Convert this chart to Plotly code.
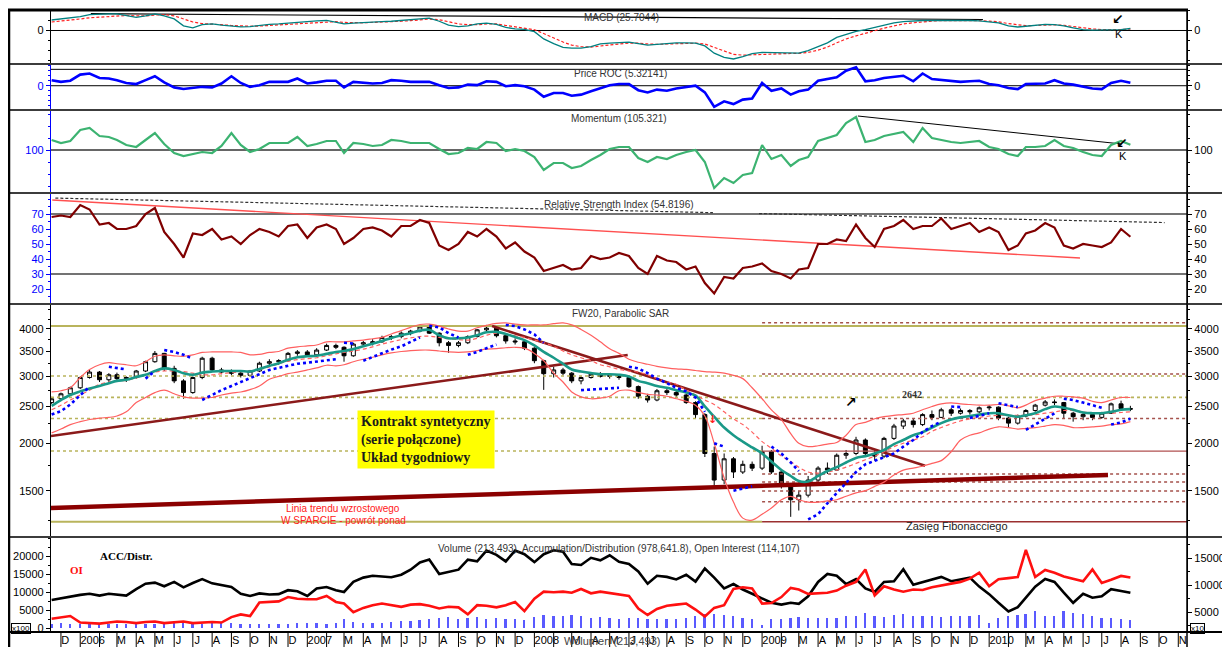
import pandas as pd
import plotly.graph_objects as go

SANS = "Liberation Sans, Arial, sans-serif"
SERIF = "Liberation Serif, Times New Roman, serif"
GLYPH = "DejaVu Sans, sans-serif"

# ---------------- time grid (1st and 16th of every month) ----------------
dates = []
for p in pd.period_range("2005-11", "2010-08", freq="M"):
    for d in (1, 16):
        ts = pd.Timestamp(p.year, p.month, d)
        if ts >= pd.Timestamp("2005-11-16"):
            dates.append(ts.strftime("%Y-%m-%d"))

# ---------------- price (FW20, half-monthly candles) ----------------
price_open = [2560, 2620, 2700, 2800, 2980, 3080, 2940, 3030, 2960, 2980,
              3100, 3280, 3450, 3150, 2920, 2720, 2980, 3350, 3120, 3080,
              3060, 3020, 3100, 3250, 3280, 3300, 3450, 3480, 3420, 3520,
              3620, 3580, 3400, 3650, 3680, 3700, 3800, 3820, 3900, 3950,
              4050, 3900, 3680, 3620, 3680, 3820, 3980, 4020, 3840, 3720,
              3700, 3560, 3300, 3050, 3120, 3060, 2920, 2980, 3040, 3000,
              3020, 2980, 2820, 2660, 2600, 2750, 2720, 2680, 2560, 2380,
              1880, 1600, 1820, 1680, 1760, 1720, 1900, 1680, 1540, 1420,
              1460, 1600, 1720, 1700, 1860, 1880, 2040, 1880, 1850, 2060,
              2220, 2290, 2240, 2380, 2340, 2450, 2400, 2440, 2420, 2480,
              2490, 2330, 2260, 2360, 2440, 2520, 2570, 2560, 2400, 2350,
              2380, 2340, 2400, 2540, 2470]
price_high = [2650, 2720, 2820, 3000, 3120, 3100, 3060, 3070, 3000, 3120,
              3300, 3500, 3460, 3200, 2950, 3000, 3380, 3380, 3160, 3130,
              3090, 3120, 3280, 3330, 3330, 3480, 3520, 3520, 3560, 3660,
              3660, 3600, 3680, 3720, 3760, 3840, 3860, 3940, 3980, 4100,
              4080, 3920, 3720, 3720, 3850, 4000, 4100, 4040, 3860, 3780,
              3720, 3580, 3320, 3180, 3160, 3080, 3000, 3080, 3080, 3060,
              3040, 3000, 2840, 2700, 2780, 2800, 2760, 2700, 2580, 2400,
              1960, 1880, 1840, 1800, 1790, 1970, 1920, 1700, 1560, 1500,
              1640, 1740, 1780, 1880, 1920, 2080, 2060, 1920, 2080, 2250,
              2320, 2330, 2400, 2440, 2480, 2480, 2470, 2460, 2500, 2520,
              2500, 2350, 2380, 2460, 2540, 2600, 2610, 2570, 2420, 2420,
              2400, 2420, 2560, 2590, 2510]
price_low = [2540, 2600, 2680, 2780, 2960, 2900, 2900, 2920, 2900, 2960,
             3080, 3260, 3100, 2880, 2620, 2700, 2950, 3080, 3040, 3020,
             2980, 3000, 3080, 3200, 3220, 3280, 3400, 3380, 3400, 3500,
             3540, 3280, 3380, 3600, 3620, 3680, 3740, 3780, 3850, 3920,
             3880, 3600, 3460, 3580, 3650, 3800, 3950, 3800, 3660, 3640,
             3520, 3250, 2765, 2980, 3020, 2880, 2860, 2960, 2980, 2960,
             2940, 2800, 2620, 2560, 2580, 2680, 2650, 2540, 2330, 1840,
             1540, 1560, 1620, 1660, 1690, 1700, 1660, 1520, 1280, 1330,
             1440, 1580, 1660, 1690, 1820, 1860, 1840, 1800, 1830, 2040,
             2180, 2200, 2220, 2300, 2330, 2360, 2380, 2380, 2400, 2440,
             2300, 2200, 2240, 2340, 2420, 2500, 2520, 2320, 2280, 2300,
             2300, 2320, 2390, 2440, 2430]
price_close = [2620, 2700, 2800, 2980, 3080, 2940, 3030, 2960, 2980, 3100,
               3280, 3450, 3150, 2920, 2720, 2980, 3350, 3120, 3080, 3060,
               3020, 3100, 3250, 3280, 3300, 3450, 3480, 3420, 3520, 3620,
               3580, 3400, 3650, 3680, 3700, 3800, 3820, 3900, 3950, 4050,
               3900, 3680, 3620, 3680, 3820, 3980, 4020, 3840, 3720, 3700,
               3560, 3300, 3050, 3120, 3060, 2920, 2980, 3040, 3000, 3020,
               2980, 2820, 2660, 2600, 2750, 2720, 2680, 2560, 2380, 1880,
               1600, 1820, 1680, 1760, 1720, 1900, 1680, 1540, 1420, 1460,
               1600, 1720, 1700, 1860, 1880, 2040, 1880, 1850, 2060, 2220,
               2290, 2240, 2380, 2340, 2450, 2400, 2440, 2420, 2480, 2490,
               2330, 2260, 2360, 2440, 2520, 2570, 2560, 2400, 2350, 2380,
               2340, 2400, 2540, 2470, 2460]

ma_fast = [2510, 2600, 2680, 2740, 2790, 2830, 2880, 2920, 2940, 2990,
           3030, 3100, 3150, 3120, 3060, 3030, 3070, 3090, 3100, 3100,
           3100, 3090, 3140, 3200, 3250, 3320, 3370, 3390, 3400, 3440,
           3480, 3500, 3540, 3600, 3660, 3720, 3790, 3850, 3900, 3960,
           3980, 3850, 3780, 3780, 3800, 3850, 3920, 3930, 3880, 3810,
           3740, 3620, 3480, 3360, 3240, 3130, 3090, 3060, 3040, 3040,
           3030, 3000, 2920, 2880, 2830, 2800, 2760, 2720, 2670, 2500,
           2350, 2200, 2100, 2020, 1950, 1880, 1790, 1700, 1640, 1590,
           1585, 1640, 1690, 1730, 1780, 1830, 1850, 1880, 1920, 1990,
           2040, 2100, 2140, 2200, 2260, 2310, 2340, 2360, 2380, 2400,
           2400, 2370, 2350, 2370, 2400, 2460, 2500, 2480, 2450, 2410,
           2400, 2400, 2420, 2450, 2460]
ma_slow = [2450, 2520, 2600, 2680, 2760, 2860, 2900, 2920, 2930, 2970,
           3030, 3080, 3100, 3100, 3090, 3060, 3030, 3030, 3050, 3070,
           3090, 3100, 3130, 3180, 3240, 3290, 3320, 3340, 3360, 3400,
           3440, 3470, 3500, 3540, 3590, 3650, 3700, 3750, 3790, 3820,
           3830, 3800, 3770, 3750, 3740, 3780, 3850, 3900, 3880, 3840,
           3800, 3740, 3680, 3600, 3500, 3420, 3360, 3300, 3220, 3180,
           3130, 3100, 3080, 3030, 2960, 2900, 2860, 2760, 2680, 2600,
           2530, 2420, 2320, 2240, 2140, 2020, 1940, 1850, 1790, 1730,
           1680, 1670, 1680, 1700, 1730, 1770, 1810, 1850, 1900, 1960,
           2000, 2040, 2080, 2150, 2200, 2250, 2290, 2320, 2340, 2360,
           2370, 2370, 2370, 2370, 2380, 2400, 2420, 2440, 2440, 2420,
           2400, 2400, 2400, 2410, 2420]
bb_upper = [2730, 2750, 2800, 2980, 3130, 3220, 3260, 3240, 3220, 3200,
            3280, 3390, 3420, 3400, 3390, 3420, 3470, 3480, 3480, 3480,
            3470, 3420, 3430, 3470, 3490, 3560, 3590, 3610, 3630, 3700,
            3700, 3700, 3720, 3740, 3770, 3800, 3880, 3960, 4040, 4110,
            4120, 4070, 4000, 3950, 3950, 4030, 4090, 4140, 4150, 4120,
            4100, 4100, 4100, 4130, 4150, 4100, 3990, 3850, 3700, 3550,
            3450, 3330, 3270, 3230, 3190, 3160, 3140, 3130, 3110, 3090,
            3080, 3060, 3020, 2960, 2800, 2620, 2450, 2310, 2120, 2000,
            1960, 1970, 1990, 2010, 2100, 2240, 2270, 2320, 2350, 2370,
            2380, 2400, 2450, 2500, 2540, 2555, 2540, 2530, 2520, 2520,
            2530, 2510, 2480, 2520, 2590, 2630, 2660, 2660, 2650, 2630,
            2580, 2560, 2600, 2640, 2640]
bb_lower = [2130, 2180, 2240, 2280, 2310, 2330, 2340, 2360, 2420, 2560,
            2640, 2720, 2760, 2700, 2650, 2630, 2630, 2640, 2680, 2710,
            2730, 2770, 2830, 2950, 3000, 3050, 3080, 3120, 3160, 3210,
            3200, 3220, 3280, 3330, 3370, 3420, 3460, 3490, 3510, 3520,
            3520, 3500, 3480, 3470, 3480, 3510, 3540, 3550, 3570, 3580,
            3560, 3450, 3300, 3060, 2900, 2730, 2650, 2620, 2630, 2660,
            2750, 2760, 2720, 2690, 2680, 2660, 2620, 2580, 2520, 2360,
            2000, 1620, 1400, 1270, 1255, 1300, 1350, 1420, 1450, 1420,
            1400, 1400, 1410, 1420, 1450, 1480, 1500, 1540, 1580, 1650,
            1700, 1720, 1740, 1770, 1800, 1900, 2040, 2100, 2130, 2180,
            2210, 2200, 2180, 2190, 2200, 2220, 2240, 2230, 2200, 2200,
            2210, 2220, 2240, 2250, 2280]

# Parabolic SAR (None = flip / gap)
sar_dates = ["2005-11-16", "2005-12-01", "2005-12-16", "2006-01-01", "2006-01-16", None,
             "2006-02-16", "2006-03-01", "2006-03-16", None,
             "2006-04-16", "2006-05-01", None,
             "2006-05-16", "2006-06-01", "2006-06-16", "2006-07-01", None,
             "2006-07-16", "2006-08-01", "2006-08-16", "2006-09-01", "2006-09-16", "2006-10-01",
             "2006-10-16", "2006-11-01", "2006-11-16", "2006-12-01", "2006-12-16", "2007-01-01",
             "2007-01-16", "2007-02-01", "2007-02-16", None,
             "2007-03-01", "2007-03-16", None,
             "2007-04-01", "2007-04-16", "2007-05-01", "2007-05-16", "2007-06-01", "2007-06-16",
             "2007-07-01", None,
             "2007-07-16", "2007-08-01", "2007-08-16", "2007-09-01", None,
             "2007-09-16", "2007-10-01", "2007-10-16", "2007-11-01", None,
             "2007-11-16", "2007-12-01", "2007-12-16", "2008-01-01", "2008-01-16", None,
             "2008-03-16", "2008-04-01", "2008-04-16", "2008-05-01", "2008-05-16", None,
             "2008-06-01", "2008-06-16", "2008-07-01", "2008-07-16", "2008-08-01", "2008-08-16",
             "2008-09-01", "2008-09-16", "2008-10-01", None,
             "2008-10-16", "2008-11-01", None,
             "2008-11-16", "2008-12-01", "2008-12-16", None,
             "2009-01-16", "2009-02-01", "2009-02-16", "2009-03-01", None,
             "2009-03-16", "2009-04-01", "2009-04-16", "2009-05-01", "2009-05-16", "2009-06-01",
             "2009-06-16", "2009-07-01", "2009-07-16", "2009-08-01", "2009-08-16", "2009-09-01",
             "2009-09-16", "2009-10-01", "2009-10-16", None,
             "2009-11-01", "2009-11-16", None,
             "2009-12-01", "2009-12-16", "2010-01-01", None,
             "2010-01-16", "2010-02-01", "2010-02-16", None,
             "2010-03-01", "2010-03-16", "2010-04-01", "2010-04-16", None,
             "2010-05-01", "2010-05-16", "2010-06-01", "2010-06-16", "2010-07-01", None,
             "2010-07-16", "2010-08-01", "2010-08-16"]
sar_values = [2380, 2430, 2530, 2680, 2820, None,
              3180, 3160, 3130, None,
              2960, 3100, None,
              3520, 3480, 3420, 3340, None,
              2600, 2680, 2760, 2830, 2900, 2980,
              3050, 3120, 3160, 3200, 3240, 3260,
              3280, 3310, 3330, None,
              3680, 3660, None,
              3300, 3380, 3450, 3530, 3600, 3700,
              3800, None,
              4080, 4040, 3900, 3800, None,
              3420, 3480, 3560, 3640, None,
              4100, 4070, 3990, 3870, 3680, None,
              2760, 2770, 2770, 2780, 2800, None,
              3180, 3150, 3060, 2960, 2880, 2800,
              2740, 2640, 2420, None,
              2000, 1960, None,
              1500, 1520, 1540, None,
              1960, 1880, 1780, 1690, None,
              1260, 1300, 1390, 1480, 1580, 1680,
              1760, 1800, 1840, 1880, 1960, 2040,
              2140, 2220, 2280, None,
              2500, 2490, None,
              2330, 2360, 2400, None,
              2550, 2520, 2490, None,
              2170, 2240, 2320, 2400, None,
              2620, 2600, 2560, 2520, 2480, None,
              2240, 2270, 2320]

# horizontal price levels
fib_levels_full = [3008, 2642]           # olive dotted, whole width
fib_levels_early = [2325, 1908]          # olive dotted, until 2009
fib_levels_late = [4154, 3045, 2325, 1660, 1581, 1497, 1403]   # dark red dotted, from 2009
top_level = 4074
bottom_level = 1243
level_1908 = 1908

# trend lines (dates, prices)
trend_up_dates = ["2005-11-15", "2008-05-30"]
trend_up_prices = [2090, 3416]
trend_down_dates = ["2007-10-25", "2009-09-20"]
trend_down_prices = [4074, 1746]
support_dates = ["2005-11-15", "2010-07-11"]
support_prices = [1351, 1650]

# ---------------- indicators ----------------
macd_line = [136, 150, 165, 180, 205, 215, 215, 215, 190, 170,
             190, 215, 190, 150, 60, 35, 75, 85, 70, 55,
             48, 50, 65, 80, 85, 95, 110, 115, 125, 130,
             110, 85, 95, 105, 110, 115, 120, 130, 140, 155,
             160, 120, 70, 50, 60, 85, 95, 80, 40, 20,
             15, -15, -110, -170, -220, -230, -230, -210, -175, -165,
             -160, -150, -170, -190, -180, -165, -160, -160, -165, -200,
             -295, -350, -370, -340, -300, -285, -290, -295, -300, -295,
             -260, -210, -160, -90, -50, -10, 10, 40, 70, 100,
             115, 125, 130, 130, 132, 132, 130, 130, 125, 115,
             100, 60, 45, 55, 70, 80, 75, 60, 35, 10,
             5, 5, 8, 10, 25.7]
macd_signal = [110, 120, 135, 150, 165, 175, 185, 195, 195, 190,
               190, 200, 205, 190, 150, 110, 90, 85, 75, 65,
               58, 55, 58, 65, 75, 82, 92, 100, 108, 115,
               115, 105, 100, 100, 105, 108, 112, 120, 128, 138,
               148, 140, 110, 85, 75, 75, 85, 85, 65, 45,
               30, 10, -40, -100, -150, -190, -210, -215, -200, -185,
               -175, -165, -165, -175, -180, -175, -170, -165, -165, -175,
               -220, -270, -310, -320, -315, -305, -300, -298, -298, -296,
               -285, -255, -215, -160, -110, -70, -35, 0, 30, 60,
               85, 100, 115, 122, 128, 130, 130, 130, 128, 122,
               112, 90, 70, 62, 65, 72, 74, 68, 52, 32,
               20, 12, 10, 12, 18]
macd_res_dates = ["2006-01-18", "2009-12-22"]
macd_res_values = [218, 143]

roc = [10, 7, 9, 20, 22, 14, 13, 10, 5, 3,
       10, 17, 6, -3, -6, -4, -2, -3, 4, 17,
       5, -2, 1, 7, 7, 7, 13, 4, 6, 9,
       9, -3, 7, 6, 4, 5, 10, 9, 7, 7,
       7, 1, -4, -3, 2, 1, 8, 7, -1, 1,
       -1, -7, -20, -13, -13, -18, -16, -10, -5, 1,
       3, 3, -8, -12, -7, -9, -5, -2, 0, -12,
       -38, -28, -33, -25, -23, 5, -9, -5, -16, -10,
       -7, 9, 12, 15, 27, 33, 8, 10, 14, 16,
       18, 8, 22, 12, 10, 8, 7, 8, 9, 3,
       1, -4, -6, 3, 3, 4, 10, 4, 2, -2,
       -5, -6, 5, 9, 5.32]
momentum = [110, 107, 109, 120, 122, 114, 113, 110, 105, 103,
            110, 117, 106, 97, 94, 96, 98, 97, 104, 117,
            105, 98, 101, 107, 107, 107, 113, 104, 106, 109,
            109, 97, 107, 106, 104, 105, 110, 109, 107, 107,
            107, 101, 96, 97, 102, 101, 108, 107, 99, 101,
            99, 93, 80, 87, 87, 82, 84, 90, 95, 101,
            103, 103, 92, 88, 93, 91, 95, 98, 100, 88,
            62, 72, 67, 75, 77, 105, 91, 95, 84, 90,
            93, 109, 112, 115, 127, 133, 108, 110, 114, 116,
            118, 108, 122, 112, 110, 108, 107, 108, 109, 103,
            101, 96, 94, 103, 103, 104, 110, 104, 102, 98,
            95, 94, 105, 109, 105.32]
mom_trend_dates = ["2009-06-04", "2010-08-02"]
mom_trend_values = [134, 106]

rsi = [68, 69, 68, 76, 73, 63, 64, 60, 60, 62,
       70, 74, 58, 50, 41, 57, 56, 60, 53, 55,
       50, 56, 60, 58, 55, 62, 63, 54, 61, 63,
       60, 50, 54, 60, 61, 59, 55, 62, 62, 66,
       64, 49, 46, 50, 58, 55, 60, 55, 47, 51,
       45, 41, 32, 34, 36, 33, 34, 42, 40, 41,
       44, 42, 34, 30, 42, 39, 38, 33, 35, 24,
       17, 28, 27, 34, 35, 37, 32, 30, 27, 33,
       34, 50, 50, 53, 52, 63, 54, 48, 60, 62,
       66, 60, 62, 62, 67, 60, 62, 64, 58, 61,
       58, 46, 49, 57, 59, 64, 61, 49, 47, 50,
       49, 48, 51, 60, 54.82]
rsi_trend_dates = ["2005-11-17", "2010-05-27"]
rsi_trend_values = [79.3, 40.7]
rsi_res_dates = ["2005-11-22", "2008-10-14", None, "2008-12-27", "2010-10-10"]
rsi_res_values = [80.6, 70.9, None, 70.3, 64.3]

# ---------------- volume / accumulation-distribution / open interest ----------------
volume = [1200, 1300, 1100, 1000, 1200, 1300, 1100, 1200, 1000, 1300,
          1100, 1200, 1400, 2000, 1800, 1300, 1200, 1400, 1500, 1300,
          1200, 1000, 1100, 1000, 1200, 1100, 1300, 1400, 1500, 1200,
          1300, 2400, 1800, 1400, 1300, 1500, 1700, 1900, 2000, 2200,
          2500, 2900, 3000, 2600, 2700, 3000, 2400, 2800, 2600, 2400,
          2300, 3000, 3600, 3300, 3400, 3500, 3200, 2800, 3000, 2700,
          2600, 2900, 2800, 2600, 2500, 2600, 2400, 2800, 3300, 4000,
          3900, 3500, 3200, 2800, 2500, 800, 2400, 2600, 2800, 3000,
          2700, 2900, 2800, 2700, 3200, 3400, 4300, 3200, 3000, 3600,
          3800, 3400, 3300, 3200, 3100, 3300, 3400, 3200, 3500, 1500,
          2800, 3300, 3600, 3800, 4800, 3200, 3400, 4700, 4300, 3800,
          3400, 2800, 2700, 2600, 2135]
acc_dist = [7800, 8300, 8700, 9200, 9500, 9000, 9500, 9200, 9000, 10800,
            12300, 12600, 11600, 12800, 11300, 12500, 13600, 12400, 12000, 11400,
            9500, 8900, 9600, 9300, 9400, 10500, 10200, 8900, 11000, 11400,
            10500, 10000, 12800, 14000, 14500, 14400, 14100, 14800, 16200, 18200,
            19000, 15000, 15500, 16200, 19000, 18500, 21500, 20300, 18500, 21500,
            20500, 18300, 20500, 21600, 21200, 17800, 17500, 19500, 18800, 20200,
            18400, 17800, 15700, 12300, 14500, 14200, 13500, 14800, 12900, 16500,
            14000, 11000, 12200, 10700, 9500, 8200, 7000, 6500, 7000, 6700,
            8800, 12800, 15000, 14500, 12200, 13600, 11000, 10000, 12800, 13000,
            16300, 12000, 12800, 13600, 14200, 13000, 13600, 14000, 11500, 9400,
            7000, 4600, 5800, 8500, 11500, 13600, 12800, 9800, 7000, 9500,
            8400, 8800, 10800, 10300, 9786]
open_interest = [3800, 4000, 4300, 3100, 3000, 2900, 3100, 3300, 3200, 3000,
                 3200, 3300, 3000, 3200, 3300, 3000, 3100, 3200, 3100, 4100,
                 4600, 4300, 6800, 6900, 7000, 7800, 7500, 7400, 7400, 8000,
                 6900, 6600, 5000, 5800, 6300, 6600, 6300, 6000, 6400, 6500,
                 6200, 5700, 6000, 5900, 4600, 6300, 6200, 5900, 6300, 6900,
                 5200, 7500, 8800, 8700, 8800, 8600, 9300, 8500, 8800, 8500,
                 8300, 8000, 5700, 4500, 5600, 6200, 6400, 6600, 5500, 4200,
                 5800, 6300, 9300, 9600, 9400, 6600, 6700, 7800, 9500, 9200,
                 8400, 8500, 8600, 9000, 9900, 10600, 12900, 8100, 9800, 9200,
                 8800, 9200, 9100, 9600, 9900, 10300, 10600, 11200, 12300, 9800,
                 11100, 11300, 11500, 16500, 11500, 12800, 12300, 11600, 11200, 10700,
                 12900, 10400, 11000, 11700, 11411]

for arr in (price_open, price_high, price_low, price_close, ma_fast, ma_slow, bb_upper, bb_lower,
            macd_line, macd_signal, roc, momentum, rsi, volume, acc_dist, open_interest):
    assert len(arr) == len(dates), len(arr)
assert len(sar_dates) == len(sar_values)

# axis tick labels
month_letters = ["J", "F", "M", "A", "M", "J", "J", "A", "S", "O", "N", "D"]
month_starts = pd.date_range("2005-12-01", "2010-11-01", freq="MS")
x_tickvals, x_ticktext = [], []
for m in month_starts:
    if m.month == 2:
        continue
    if m.month == 1:
        x_tickvals.append((m + pd.Timedelta(days=20)).strftime("%Y-%m-%d"))
        x_ticktext.append(str(m.year))
    else:
        x_tickvals.append((m + pd.Timedelta(days=7)).strftime("%Y-%m-%d"))
        x_ticktext.append(month_letters[m.month - 1])

rsi_ticks = [20, 30, 40, 50, 60, 70]
price_ticks = [1500, 2000, 2500, 3000, 3500, 4000]
vol_ticks_left = [0, 5000, 10000, 15000, 20000]
vol_ticks_right = [5000, 10000, 15000]

X_START, X_END = "2005-11-15", "2010-11-15"

# ---------------- figure ----------------
fig = go.Figure()


def add_line(x, y, axis, color, width, dash="solid", shape="linear"):
    fig.add_trace(go.Scatter(x=x, y=y, yaxis=axis, mode="lines",
                             line=dict(color=color, width=width, dash=dash, shape=shape),
                             hoverinfo="skip", showlegend=False, connectgaps=False))


# MACD panel
add_line(macd_res_dates, macd_res_values, "y", "black", 1.2)
add_line(dates, macd_signal, "y", "#ff2020", 1.2, dash="3px,2px")
add_line(dates, macd_line, "y", "#008080", 1.3)

# ROC panel
add_line(dates, roc, "y2", "#0000ff", 2.6)

# Momentum
add_line(mom_trend_dates, mom_trend_values, "y3", "black", 1)
add_line(dates, momentum, "y3", "#3cb371", 2.2)

# RSI
add_line(rsi_res_dates, rsi_res_values, "y4", "#333333", 1.2, dash="3px,2px")
add_line(rsi_trend_dates, rsi_trend_values, "y4", "#ff5050", 1.4)
add_line(dates, rsi, "y4", "#800000", 2.2)

# Price panel levels
OLIVE = "#b9b45c"
DRED = "#a5524c"
add_line([X_START, X_END], [top_level, top_level], "y5", OLIVE, 2)
add_line([X_START, "2009-01-01"], [bottom_level, bottom_level], "y5", OLIVE, 2)
add_line(["2009-01-01", X_END], [bottom_level, bottom_level], "y5", "#9b3030", 1.5)
for lv in fib_levels_full:
    add_line([X_START, X_END], [lv, lv], "y5", OLIVE, 1.6, dash="dot")
for lv in fib_levels_early:
    add_line([X_START, "2009-01-01"], [lv, lv], "y5", OLIVE, 1.6, dash="dot")
add_line(["2009-01-01", X_END], [level_1908, level_1908], "y5", "#b05050", 1.3)
for lv in fib_levels_late:
    add_line(["2009-01-01", X_END], [lv, lv], "y5", DRED, 1.6, dash="dot")

# trend lines
add_line(trend_up_dates, trend_up_prices, "y5", "#8b1a1a", 2.6)
add_line(trend_down_dates, trend_down_prices, "y5", "#8b1a1a", 2.6)
add_line(support_dates, support_prices, "y5", "#8b0000", 4.5)

# bands / averages
add_line(dates, bb_upper, "y5", "#ff6060", 1.2, shape="spline")
add_line(dates, bb_lower, "y5", "#ff6060", 1.2, shape="spline")
add_line(dates, ma_slow, "y5", "#ff6060", 1.2, dash="4px,3px", shape="spline")

fig.add_trace(go.Candlestick(
    x=dates, open=price_open, high=price_high, low=price_low, close=price_close, yaxis="y5",
    increasing=dict(line=dict(color="black", width=1), fillcolor="white"),
    decreasing=dict(line=dict(color="black", width=1), fillcolor="black"),
    whiskerwidth=0, hoverinfo="skip", showlegend=False))

add_line(dates, ma_fast, "y5", "#1a9988", 2.6, shape="spline")
add_line(sar_dates, sar_values, "y5", "#0000ff", 2.6, dash="dot")

# Volume panel
fig.add_trace(go.Bar(x=dates, y=volume, yaxis="y6", marker=dict(color="#5a5aff", line=dict(width=0)),
                     width=86400000 * 3, hoverinfo="skip", showlegend=False))
add_line(dates, acc_dist, "y6", "black", 2.6)
add_line(dates, open_interest, "y12", "#ff1010", 2.6)

# invisible anchors for right-hand axes
for ax, val in (("y7", 0), ("y8", 0), ("y9", 100), ("y10", 50), ("y11", 2500)):
    fig.add_trace(go.Scatter(x=[dates[0]], y=[val], yaxis=ax, mode="markers",
                             marker=dict(opacity=0), hoverinfo="skip", showlegend=False))


# ---------------- layout helpers (page pixel -> paper) ----------------
def px_x(px):
    return (px - 51) / 1136


def px_y(py):
    return (632 - py) / 622


D_MACD = [px_y(64), 1.0]
D_ROC = [px_y(110), px_y(64)]
D_MOM = [px_y(193), px_y(110)]
D_RSI = [px_y(304), px_y(193)]
D_PRICE = [px_y(537), px_y(304)]
D_VOL = [0.0, px_y(537)]

R_MACD = [-435, 266]
R_ROC = [-43.7, 39.1]
R_MOM = [57, 140]
R_RSI = [10, 84]
R_PRICE = [3.0541, 3.6679]
R_VOL = [-1111, 25278]
R_OI = [1352, 18889]

BLUE = "#0000ff"


def yax(domain, rng, tickvals, color, side="left", overlay=None, log=False, minor=None, tfcolor=None):
    d = dict(domain=domain, range=rng, tickmode="array", tickvals=tickvals,
             ticktext=[str(v) for v in tickvals], showgrid=False, zeroline=False,
             showline=True, linecolor=color, linewidth=1.3, ticks="outside", ticklen=4,
             tickcolor=color, tickfont=dict(family=SANS, size=11, color=tfcolor or color),
             anchor="x", side=side, fixedrange=True)
    if log:
        d["type"] = "log"
    if overlay:
        d["overlaying"] = overlay
    if minor:
        d["minor"] = dict(ticks="outside", ticklen=2, tickcolor=color, **minor)
    return d


price_minor = dict(tickmode="array", tickvals=[1250, 1750, 2250, 2750, 3250, 3750, 4250, 4500])

layout_axes = dict(
    yaxis=yax(D_MACD, R_MACD, [0], "black", minor=dict(tick0=0, dtick=130)),
    yaxis2=yax(D_ROC, R_ROC, [0], BLUE, minor=dict(tick0=0, dtick=9)),
    yaxis3=yax(D_MOM, R_MOM, [100], BLUE, minor=dict(tick0=100, dtick=12)),
    yaxis4=yax(D_RSI, R_RSI, rsi_ticks, BLUE, minor=dict(tick0=0, dtick=5)),
    yaxis5=yax(D_PRICE, R_PRICE, price_ticks, "black", log=True, minor=price_minor),
    yaxis6=yax(D_VOL, R_VOL, vol_ticks_left, "black", minor=dict(tick0=0, dtick=2500)),
    yaxis7=yax(D_MACD, R_MACD, [0], "black", side="right", overlay="y", minor=dict(tick0=0, dtick=130)),
    yaxis8=yax(D_ROC, R_ROC, [0], "black", side="right", overlay="y2", minor=dict(tick0=0, dtick=9)),
    yaxis9=yax(D_MOM, R_MOM, [100], "black", side="right", overlay="y3", minor=dict(tick0=100, dtick=12)),
    yaxis10=yax(D_RSI, R_RSI, rsi_ticks, "black", side="right", overlay="y4", minor=dict(tick0=0, dtick=5)),
    yaxis11=yax(D_PRICE, R_PRICE, price_ticks, "black", side="right", overlay="y5", log=True, minor=price_minor),
    yaxis12=yax(D_VOL, R_OI, vol_ticks_right, "black", side="right", overlay="y6", minor=dict(tick0=0, dtick=2500)),
)

# ---------------- shapes ----------------
shapes = []


def hline(yref, val, color, width, dash="solid"):
    shapes.append(dict(type="line", xref="paper", x0=0, x1=1, yref=yref, y0=val, y1=val,
                       line=dict(color=color, width=width, dash=dash), layer="below"))


hline("y", 0, "black", 1)
hline("y2", 0, "black", 1)
hline("y2", 29.5, "black", 1)
hline("y3", 100, "#333333", 1.5)
hline("y4", 70, "#444444", 1.5)
hline("y4", 30, "#444444", 1.5)

X_L, X_R = px_x(8), px_x(1230)
for py in (64, 110, 193, 304, 537):
    shapes.append(dict(type="line", xref="paper", yref="paper", x0=X_L, x1=X_R, y0=px_y(py), y1=px_y(py),
                       line=dict(color="#3c3c3c", width=2)))
shapes.append(dict(type="line", xref="paper", yref="paper", x0=X_L, x1=px_x(1188), y0=1, y1=1,
                   line=dict(color="black", width=3)))
shapes.append(dict(type="line", xref="paper", yref="paper", x0=X_L, x1=X_R, y0=0, y1=0,
                   line=dict(color="black", width=2)))
shapes.append(dict(type="line", xref="paper", yref="paper", x0=px_x(9), x1=px_x(9), y0=px_y(647), y1=1,
                   line=dict(color="black", width=2.5)))
shapes.append(dict(type="line", xref="paper", yref="paper", x0=1, x1=1, y0=px_y(647), y1=1,
                   line=dict(color="black", width=1.5)))
for m in month_starts:
    shapes.append(dict(type="line", xref="x", yref="paper", x0=m.strftime("%Y-%m-%d"), x1=m.strftime("%Y-%m-%d"),
                       y0=px_y(647), y1=0, line=dict(color="black", width=1)))

# ---------------- annotations ----------------
ann = []


def text(px, py, s, size=10, color="#333333", family=SANS, **kw):
    d = dict(x=px_x(px), y=px_y(py), xref="paper", yref="paper", text=s, showarrow=False,
             font=dict(family=family, size=size, color=color), xanchor="center", yanchor="middle")
    d.update(kw)
    ann.append(d)


text(621, 17, "MACD (25.7044)")
text(620, 73, "Price ROC (5.32141)")
text(619, 118, "Momentum (105.321)")
text(619, 204, "Relative Strength Index (54.8196)")
text(620, 313, "FW20, Parabolic SAR")
text(619, 548, "Volume (213,493), Accumulation/Distribution (978,641.8), Open Interest (114,107)")

text(426, 439, "<b>Kontrakt syntetyczny<br>(serie połączone)<br>Układ tygodniowy</b>", size=14,
     color="#1a1a1a", family=SERIF, bgcolor="#ffff00", align="left", borderpad=3)
text(343, 508, "Linia trendu wzrostowego", size=10, color="#ff2020")
text(343, 520, "W SPARCIE - powrót ponad", size=10, color="#ff2020")
text(912, 395, "<b>2642</b>", size=10, color="#333333", family=SERIF)
text(957, 526, "Zasięg Fibonacciego", size=11, color="#222222")

# arrow glyphs
text(851, 402, "<b>↗</b>", size=14, color="black", family=GLYPH)
text(713, 419, "<b>↓</b>", size=11, color="#ff2020", family=GLYPH)
text(1118, 19, "<b>↙</b>", size=14, color="black", family=GLYPH)
text(1119, 34, "K", size=11, color="black")
text(1122, 143, "<b>↙</b>", size=14, color="black", family=GLYPH)
text(1123, 156, "K", size=11, color="black")

text(126, 556, "<b>ACC/Distr.</b>", size=11, color="black", family=SERIF)
text(76, 570, "<b>OI</b>", size=11, color="#ff1010", family=SERIF)
text(612, 641, "Wolumen (213,493)", size=11, color="#444444")
text(21, 628, "x100", size=8, color="black", bordercolor="black", borderwidth=1, borderpad=0)
text(1197, 628, "x10", size=8, color="black", bordercolor="black", borderwidth=1, borderpad=0)

# The page body has an 8px default margin, so the figure is 8px smaller than the
# window on each axis and all page positions are shifted by that margin.
fig.update_layout(
    width=1222, height=639,
    margin=dict(l=43, r=43, t=2, b=15, autoexpand=False),
    paper_bgcolor="white", plot_bgcolor="white",
    showlegend=False, hovermode=False, bargap=0,
    xaxis=dict(type="date", range=[X_START, X_END], anchor="y6", domain=[0, 1],
               tickmode="array", tickvals=x_tickvals, ticktext=x_ticktext, ticks="",
               showgrid=False, zeroline=False, showline=False,
               tickfont=dict(family=SANS, size=11, color="black"),
               rangeslider=dict(visible=False), fixedrange=True),
    shapes=shapes, annotations=ann,
    **layout_axes,
)

fig.write_html("out.html")
